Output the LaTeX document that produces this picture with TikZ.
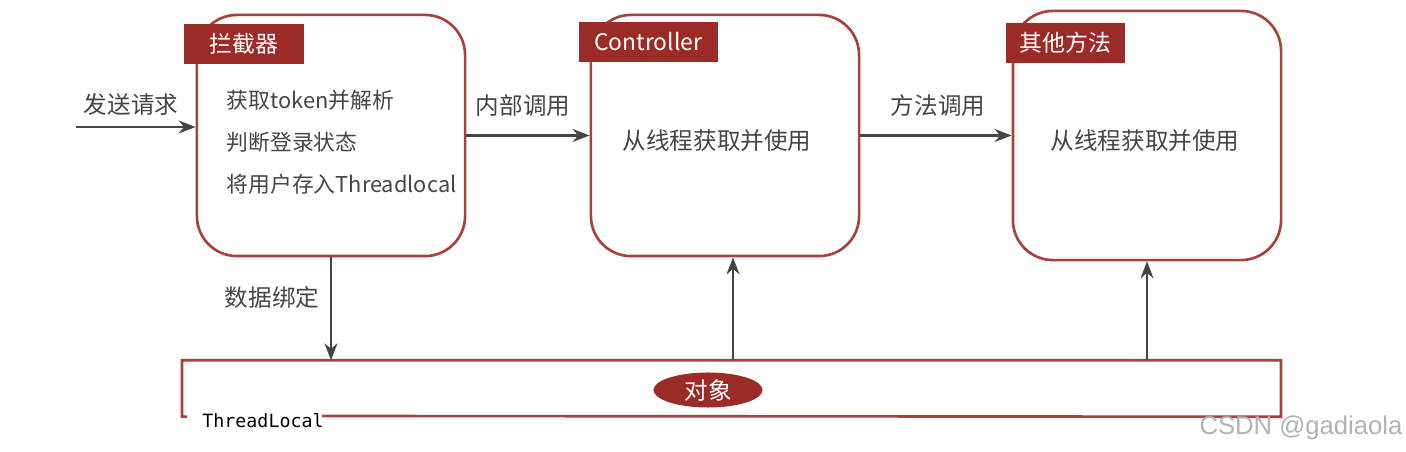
\documentclass[tikz,border=0pt]{standalone}
\usepackage{fontspec}
\setmainfont{Noto Sans CJK SC}
\newfontfamily\wmfont{Liberation Sans}
\setmonofont{DejaVu Sans Mono}
\usepackage{xcolor}
\usetikzlibrary{arrows.meta,shapes.geometric}
\definecolor{hdred}{HTML}{9B2B26}
\definecolor{bdred}{HTML}{A8403C}
\definecolor{txgray}{HTML}{454545}
\newcommand{\txt}{\fontsize{6.2pt}{11.9pt}\selectfont}
\newcommand{\bigtxt}{\fontsize{6.7pt}{8pt}\selectfont}
\newcommand{\hdlabel}[4]{%
  \node[hdbox,minimum width=#3] (#1) at (#2) {#4};}

\begin{document}
\begin{tikzpicture}[x=0.01cm,y=-0.01cm,
  stagebox/.style={draw=bdred,line width=0.75pt,rounded corners=0.4cm,
    minimum width=2.68cm,minimum height=2.41cm},
  hdbox/.style={fill=hdred,text=white,anchor=north west,minimum height=0.4cm,
    inner sep=0pt,font=\fontsize{6.5pt}{8pt}\selectfont},
  lbl/.style={text=txgray,font=\bigtxt},
  arr/.style={draw=txgray,line width=0.6pt,-{Stealth[length=1.7mm,width=1.3mm]}}]
  \useasboundingbox (0,0) rectangle (1406,452);
  \node[stagebox] (lanjie) at (331,135.5) {};
  \node[stagebox] (ctrl) at (725,135.5) {};
  \node[stagebox,minimum height=2.49cm] (other) at (1147,135.5) {};
  \hdlabel{hdlanjie}{183,23}{1.2cm}{拦截器}
  \hdlabel{hdctrl}{578,21}{1.39cm}{Controller}
  \hdlabel{hdother}{1005,22}{1.19cm}{其他方法}
  \node[lbl,font=\txt,anchor=west,align=left,inner sep=0pt] (steps) at (226,142)
    {获取token并解析\\判断登录状态\\将用户存入Threadlocal};
  \node[lbl] (usectrl) at (717,141) {从线程获取并使用};
  \node[lbl] (useother) at (1145,141) {从线程获取并使用};
  \node[minimum width=10.97cm,minimum height=0.55cm,inner sep=0pt] (tl) at (731.5,388.5) {};
  \draw[draw=bdred,line width=0.75pt] (322,416) -- (tl.south east) -- (tl.north east)
    -- (tl.north west) -- (tl.south west) -- ++(5,0);
  \node[text=black,font=\ttfamily\fontsize{5.2pt}{6pt}\selectfont] (tlname) at (263,421) {ThreadLocal};
  \node[ellipse,fill=hdred,text=white,minimum width=1.09cm,minimum height=0.35cm,
    inner sep=0pt,font=\bigtxt] (obj) at (708,390) {对象};
  \coordinate (src) at (76,127);
  \draw[arr] (src) -- (src -| lanjie.west);
  \node[lbl] at (131,105) {发送请求};
  \draw[arr] (lanjie.east) -- (ctrl.west);
  \node[lbl] at (523,106) {内部调用};
  \draw[arr] (ctrl.east) -- (other.west);
  \node[lbl] at (938,106) {方法调用};
  \draw[arr] (lanjie.south) -- (lanjie.south |- tl.north);
  \node[lbl] at (272,298) {数据绑定};
  \draw[arr] ([xshift=0.08cm]ctrl.south |- tl.north) -- ([xshift=0.08cm]ctrl.south);
  \draw[arr] (other.south |- tl.north) -- (other.south);
  \node[text=black!30,font=\wmfont\fontsize{7.3pt}{9pt}\selectfont] (wm) at (1301,428) {CSDN @gadiaola};
\end{tikzpicture}
\end{document}
